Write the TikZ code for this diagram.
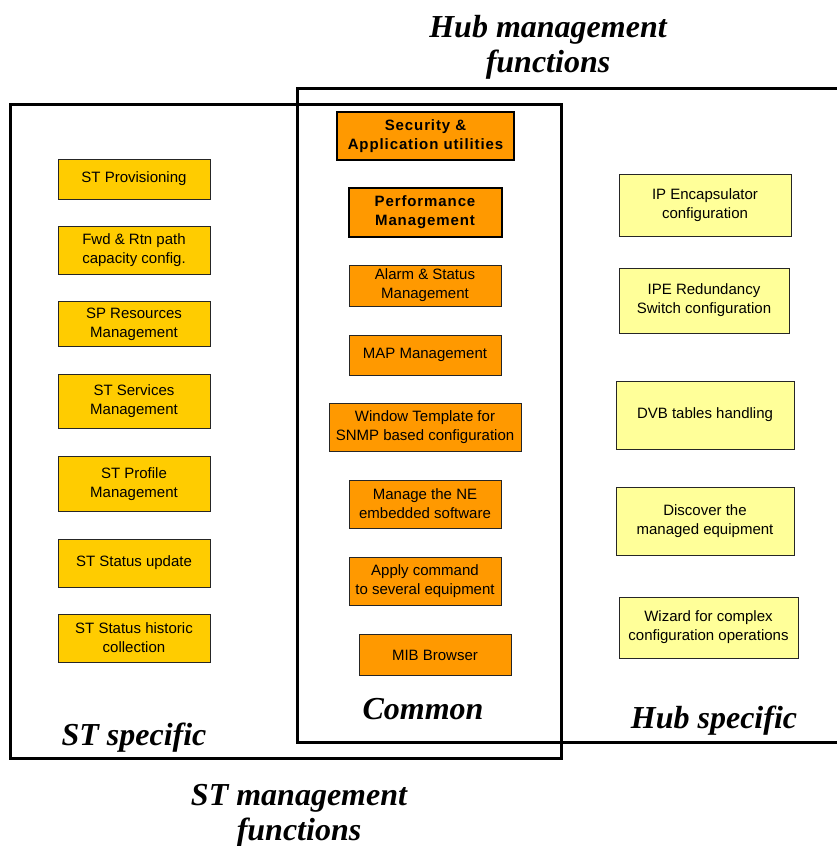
\documentclass[tikz,border=0pt]{standalone}
\usepackage{fontspec}
\setmainfont{Liberation Serif}
\newfontfamily\boxfont{Liberation Sans}
\newfontfamily\boxfontwide[LetterSpace=6]{Liberation Sans}
\begin{document}
\begin{tikzpicture}[x=1pt,y=-1pt,
  frame/.style={line width=3pt},
  fn/.style={draw=black!85,line width=0.9pt,inner sep=0pt,align=center,
    font=\boxfont\fontsize{15}{19}\selectfont},
  stfn/.style={fn,fill={rgb,255:red,255;green,204;blue,0}},
  comfn/.style={fn,fill={rgb,255:red,255;green,153;blue,0}},
  keyfn/.style={comfn,line width=2pt,draw=black,
    font=\boxfontwide\bfseries\fontsize{15}{19}\selectfont},
  hubfn/.style={fn,fill={rgb,255:red,255;green,255;blue,153}},
  heading/.style={align=center,font=\bfseries\itshape\fontsize{32}{35}\selectfont}]
\useasboundingbox (0,0) rectangle (837,846);

% group frames
\draw[frame] (845,88) -- (297,88) -- (297,742) -- (845,742);
\draw[frame] (10,104) rectangle (561,758);

% headings
\node[heading] (hubtitle) at (548,47) {Hub management\\functions};
\node[heading] (sttitle) at (299,816) {ST management\\functions};
\node[heading] (common) at (423,709) {Common};
\node[heading] (stspec) at (134,738) {ST specific};
\node[heading] (hubspec) at (714,721) {Hub specific};

% ST specific functions
\node[stfn,minimum width=152,minimum height=40] (prov) at (134,179) {ST Provisioning};
\node[stfn,minimum width=152,minimum height=48] (fwd) at (134,250) {Fwd \& Rtn path\\capacity config.};
\node[stfn,minimum width=152,minimum height=45] (spres) at (134,324) {SP Resources\\Management};
\node[stfn,minimum width=152,minimum height=54] (serv) at (134,401) {ST Services\\Management};
\node[stfn,minimum width=152,minimum height=55] (prof) at (134,484) {ST Profile\\Management};
\node[stfn,minimum width=152,minimum height=48] (stat) at (134,563) {ST Status update};
\node[stfn,minimum width=152,minimum height=48] (hist) at (134,638) {ST Status historic\\collection};

% common functions
\node[keyfn,minimum width=177,minimum height=48] (sec) at (425.5,136) {Security \&\\Application utilities};
\node[keyfn,minimum width=153,minimum height=49] (perf) at (425,212.5) {Performance\\Management};
\node[comfn,minimum width=152,minimum height=41] (alarm) at (425,285.5) {Alarm \& Status\\Management};
\node[comfn,minimum width=152,minimum height=40] (map) at (425,355) {MAP Management};
\node[comfn,minimum width=192,minimum height=48] (win) at (425,427) {Window Template for\\SNMP based configuration};
\node[comfn,minimum width=152,minimum height=48] (ne) at (425,504) {Manage the NE\\embedded software};
\node[comfn,minimum width=152,minimum height=48] (apply) at (425,581) {Apply command\\to several equipment};
\node[comfn,minimum width=152,minimum height=41] (mib) at (435,655) {MIB Browser};

% hub specific functions
\node[hubfn,minimum width=172,minimum height=62] (ipe) at (705,205) {IP Encapsulator\\configuration};
\node[hubfn,minimum width=170,minimum height=65] (red) at (704,300.5) {IPE Redundancy\\Switch configuration};
\node[hubfn,minimum width=178,minimum height=68] (dvb) at (705,415) {DVB tables handling};
\node[hubfn,minimum width=178,minimum height=68] (disc) at (705,521) {Discover the\\managed equipment};
\node[hubfn,minimum width=179,minimum height=61] (wiz) at (708.5,627.5) {Wizard for complex\\configuration operations};
\end{tikzpicture}
\end{document}
